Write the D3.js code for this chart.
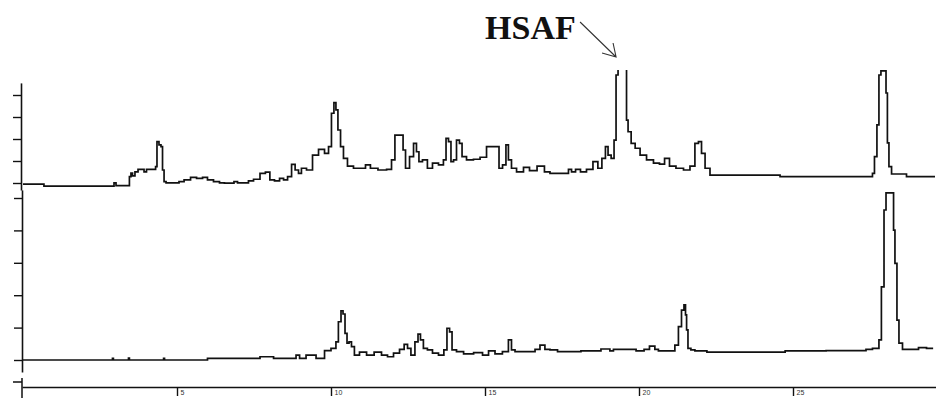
<!DOCTYPE html>
<html>
<head>
<meta charset="utf-8">
<script src="https://cdn.jsdelivr.net/npm/d3@7"></script>
<style>
  html, body { margin: 0; padding: 0; background: #fff; }
  svg { display: block; }
</style>
</head>
<body>
<div id="chart"></div>
<script>
// retention time (min) / detector response
const topTrace = [
  [0, -0.05], [0.68, -0.05], [0.68, -0.14], [2.92, -0.14], [2.99, 0.01], [3.05, -0.12], [3.44, -0.12],
  [3.47, 0.29], [3.54, 0.45], [3.57, 0.32], [3.70, 0.51], [3.77, 0.62], [3.90, 0.62], [3.96, 0.51],
  [4.06, 0.62], [4.29, 0.62], [4.32, 0.74], [4.38, 1.88], [4.45, 1.73], [4.51, 1.65], [4.55, 0.59],
  [4.61, 0.06], [4.68, 0.01], [5.03, 0.01], [5.10, 0.06], [5.36, 0.14], [5.52, 0.26], [5.75, 0.21],
  [5.91, 0.26], [6.07, 0.14], [6.30, 0.06], [6.46, 0.01], [6.62, -0.01], [6.82, -0.01], [6.88, 0.06],
  [7.05, 0.01], [7.27, 0.01], [7.37, 0.10], [7.60, 0.17], [7.79, 0.44], [7.95, 0.49], [8.08, 0.14],
  [8.25, 0.10], [8.41, 0.21], [8.51, 0.14], [8.67, 0.29], [8.77, 0.85], [8.90, 0.59], [8.99, 0.44],
  [9.09, 0.67], [9.32, 0.59], [9.48, 1.27], [9.71, 1.53], [9.87, 1.35], [9.97, 1.65], [10.06, 3.17],
  [10.13, 3.65], [10.19, 3.32], [10.26, 2.41], [10.36, 1.65], [10.45, 1.12], [10.62, 0.77], [10.84, 0.67],
  [11.04, 0.67], [11.20, 0.82], [11.36, 0.67], [11.69, 0.59], [11.92, 0.62], [12.01, 1.05], [12.14, 2.18],
  [12.31, 2.18], [12.37, 1.50], [12.47, 0.67], [12.63, 1.20], [12.73, 1.80], [12.82, 1.42], [12.89, 0.97],
  [13.05, 1.05], [13.21, 0.67], [13.38, 0.90], [13.60, 0.82], [13.70, 1.05], [13.77, 2.03], [13.86, 1.88],
  [13.93, 0.97], [14.03, 1.05], [14.12, 1.95], [14.22, 1.80], [14.29, 1.20], [14.51, 1.05], [14.74, 1.08],
  [14.94, 1.17], [15.16, 1.65], [15.42, 1.65], [15.49, 0.67], [15.65, 0.82], [15.71, 1.73], [15.81, 1.05],
  [15.91, 0.67], [16.14, 0.51], [16.36, 0.71], [16.53, 0.56], [16.85, 0.77], [17.01, 0.51], [17.21, 0.44],
  [17.66, 0.44], [17.76, 0.62], [17.86, 0.51], [18.02, 0.62], [18.18, 0.51], [18.41, 0.62], [18.60, 0.97],
  [18.73, 0.67], [18.86, 1.12], [18.96, 1.65], [19.03, 1.27], [19.16, 1.12], [19.22, 1.95], [19.29, 4.91],
  [19.35, 5.6], [19.45, 7.4], [19.58, 5.6], [19.61, 2.86], [19.68, 2.33], [19.81, 1.80], [19.94, 1.58],
  [20.13, 1.27], [20.36, 1.05], [20.58, 0.90], [20.75, 0.86], [20.91, 1.12], [21.07, 0.77], [21.33, 0.67],
  [21.56, 0.59], [21.75, 0.77], [21.88, 1.80], [21.98, 1.88], [22.08, 1.35], [22.21, 0.67], [22.40, 0.36],
  [23.28, 0.36], [25.88, 0.29], [27.56, 0.29], [27.60, 0.44], [27.69, 1.20], [27.76, 2.64], [27.82, 4.91],
  [27.89, 5.10], [27.99, 5.10], [28.05, 4.09], [28.08, 1.82], [28.15, 0.74], [28.25, 0.41], [29.12, 0.29],
  [29.61, 0.29]
];

const bottomTrace = [
  [0, 0], [2.89, 0], [2.92, 0.05], [2.95, 0], [3.41, 0], [3.44, 0.06], [3.47, 0], [4.55, 0], [4.58, 0.05],
  [4.61, 0], [7.37, 0.05], [8.02, 0.10], [8.25, 0.05], [8.83, 0.05], [8.90, 0.15], [9.06, 0.05], [9.32, 0.15],
  [9.71, 0.05], [9.87, 0.29], [10.13, 0.36], [10.19, 0.56], [10.29, 1.18], [10.36, 1.52], [10.42, 1.42],
  [10.49, 0.82], [10.55, 0.52], [10.62, 0.56], [10.71, 0.41], [10.81, 0.15], [11.04, 0.24], [11.27, 0.15],
  [11.53, 0.24], [11.75, 0.15], [11.92, 0.10], [12.14, 0.21], [12.31, 0.33], [12.44, 0.48], [12.53, 0.36],
  [12.66, 0.15], [12.79, 0.56], [12.86, 0.80], [12.95, 0.62], [13.05, 0.36], [13.21, 0.31], [13.38, 0.21],
  [13.60, 0.15], [13.73, 0.31], [13.80, 0.98], [13.90, 0.87], [13.96, 0.31], [14.19, 0.26], [14.42, 0.19],
  [14.84, 0.23], [15.00, 0.15], [15.23, 0.28], [15.42, 0.19], [15.71, 0.26], [15.81, 0.62], [15.91, 0.31],
  [16.04, 0.26], [16.56, 0.26], [16.69, 0.33], [16.88, 0.46], [17.01, 0.33], [17.21, 0.31], [17.50, 0.26],
  [18.73, 0.28], [18.80, 0.34], [18.99, 0.34], [19.12, 0.28], [19.22, 0.33], [19.87, 0.33], [19.94, 0.28],
  [20.10, 0.28], [20.23, 0.33], [20.45, 0.43], [20.58, 0.33], [20.68, 0.28], [21.10, 0.28], [21.23, 0.46],
  [21.33, 1.03], [21.43, 1.54], [21.49, 1.70], [21.53, 1.39], [21.56, 0.93], [21.62, 0.36], [21.75, 0.31],
  [21.88, 0.28], [22.53, 0.24], [24.68, 0.24], [24.81, 0.28], [27.34, 0.29], [27.40, 0.33], [27.76, 0.36],
  [27.82, 0.62], [27.92, 2.26], [27.99, 4.63], [28.05, 5.16], [28.25, 5.16], [28.28, 4.01], [28.34, 2.98],
  [28.41, 1.23], [28.47, 0.52], [28.64, 0.33], [29.03, 0.33], [29.12, 0.38], [29.55, 0.36]
];

const timeTicks = [5, 10, 15, 20, 25];
const timeLabels = ['5', '10', '15', '20', '25'];
const topTicks = [0, 1, 2, 3, 4];
const bottomTicks = [0, 1, 2, 3, 4, 5];
const peakLabel = 'HSAF';
const peakTime = 19.45;

const width = 936, height = 398;
const ink = '#111';

const svg = d3.select('#chart').append('svg')
  .attr('width', width)
  .attr('height', height);

// scales
const x = d3.scaleLinear().domain([0, 30]).range([23, 23 + 30 * 30.8]);
const yTop = d3.scaleLinear().domain([0, 4]).range([183, 95]);
const yBot = d3.scaleLinear().domain([0, 5]).range([360, 198]);

// axis copies with longer domain lines
const ext = (s, d) => s.copy().domain(d).range(d.map(s));
const xAxisScale = ext(x, [-0.03, 29.65]);
const yTopAxisScale = ext(yTop, [-0.32, 4.55]);
const yBotAxisScale = ext(yBot, [-0.37, 5.25]);

const styleAxis = g => {
  g.select('.domain').attr('stroke', ink).attr('stroke-width', 1.6);
  g.selectAll('.tick line').attr('stroke', ink).attr('stroke-width', 1.4);
};

svg.append('g')
  .attr('transform', 'translate(21,0)')
  .call(d3.axisLeft(yTopAxisScale).tickValues(topTicks).tickSize(8).tickSizeOuter(0).tickFormat(''))
  .call(styleAxis);

svg.append('g')
  .attr('transform', 'translate(22,0)')
  .call(d3.axisLeft(yBotAxisScale).tickValues(bottomTicks).tickSize(8).tickSizeOuter(0).tickFormat(''))
  .call(styleAxis);

// time axis
const xAxis = svg.append('g')
  .attr('transform', 'translate(0,387)')
  .call(d3.axisBottom(xAxisScale).tickValues(timeTicks).tickSize(9).tickSizeOuter(0)
    .tickFormat((d, i) => timeLabels[i]))
  .call(styleAxis);
xAxis.selectAll('.tick text')
  .attr('x', 3).attr('y', 3).attr('dy', '0.71em')
  .attr('text-anchor', 'start')
  .attr('font-family', 'Liberation Sans, Arial, sans-serif')
  .attr('font-size', 7)
  .attr('fill', '#333');

// small left stub below the lower trace
svg.append('path')
  .attr('d', 'M22,378V398M13,382H22')
  .attr('fill', 'none').attr('stroke', ink).attr('stroke-width', 1.5);

// clipping for the saturated peaks
const defs = svg.append('defs');
defs.append('clipPath').attr('id', 'clipTop')
  .append('rect').attr('x', 22).attr('y', 70).attr('width', width).attr('height', 125);
defs.append('clipPath').attr('id', 'clipBot')
  .append('rect').attr('x', 22).attr('y', 180).attr('width', width).attr('height', 200);

const lineTop = d3.line().curve(d3.curveStep).x(d => x(d[0])).y(d => yTop(d[1]));
const lineBot = d3.line().curve(d3.curveStep).x(d => x(d[0])).y(d => yBot(d[1]));

svg.append('path')
  .datum(topTrace)
  .attr('clip-path', 'url(#clipTop)')
  .attr('d', lineTop)
  .attr('fill', 'none')
  .attr('stroke', ink)
  .attr('stroke-width', 1.7);

svg.append('path')
  .datum(bottomTrace)
  .attr('clip-path', 'url(#clipBot)')
  .attr('d', lineBot)
  .attr('fill', 'none')
  .attr('stroke', ink)
  .attr('stroke-width', 1.7);

// peak annotation
const tipX = x(peakTime) - 6, tipY = 57;
svg.append('text')
  .attr('x', tipX - 131).attr('y', 39)
  .attr('font-family', 'Liberation Serif, Times New Roman, serif')
  .attr('font-weight', 'bold')
  .attr('font-size', 34)
  .attr('fill', ink)
  .text(peakLabel);

svg.append('path')
  .attr('d', `M${tipX - 36},${tipY - 35}L${tipX},${tipY}M${tipX - 14},${tipY - 4}L${tipX},${tipY}L${tipX - 3},${tipY - 14}`)
  .attr('fill', 'none')
  .attr('stroke', '#333')
  .attr('stroke-width', 1.1);
</script>
</body>
</html>
